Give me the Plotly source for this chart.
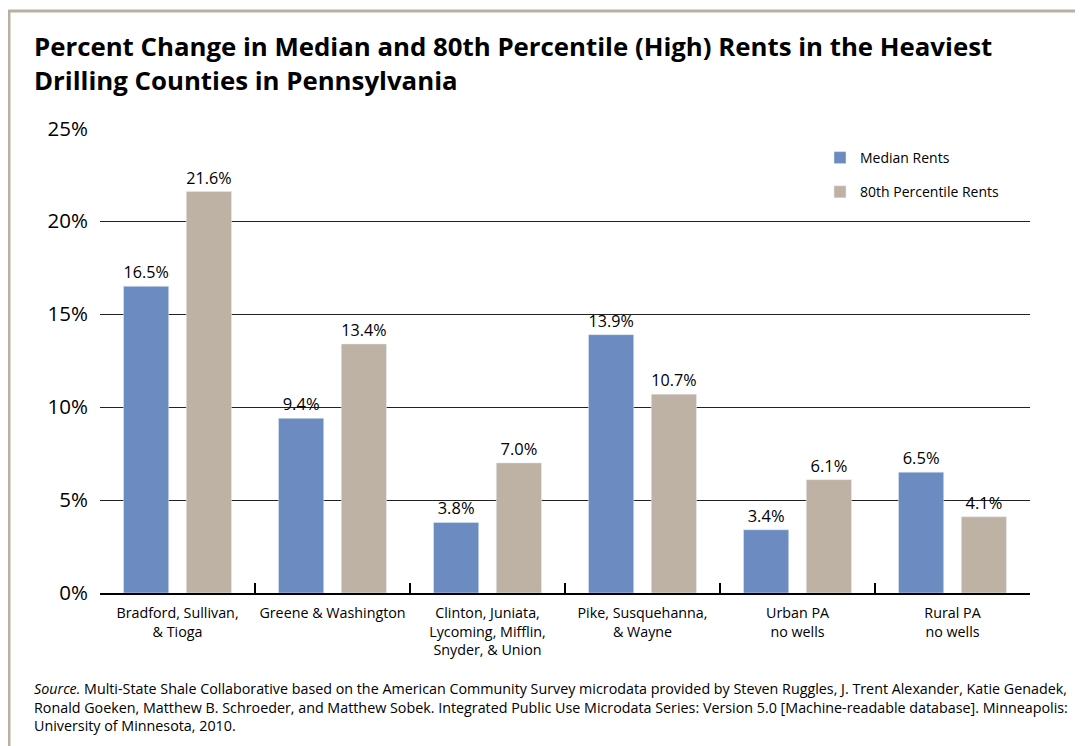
import plotly.graph_objects as go

categories = ["Bradford, Sullivan,<br>& Tioga", "Greene & Washington",
              "Clinton, Juniata,<br>Lycoming, Mifflin,<br>Snyder, & Union",
              "Pike, Susquehanna,<br>& Wayne", "Urban PA<br>no wells", "Rural PA<br>no wells"]
median_rents = [16.5, 9.4, 3.8, 13.9, 3.4, 6.5]
p80_rents = [21.6, 13.4, 7.0, 10.7, 6.1, 4.1]
y_ticks = [0, 5, 10, 15, 20, 25]
y_tick_labels = ["0%", "5%", "10%", "15%", "20%", "25%"]

OFF = 8  # browser body margin
W, H = 1083 - OFF, 746 - OFF
PL, PR, PT, PB = 100, 1030, 128, 593  # plot area in page pixels
L, R, T, B = PL - OFF, W - (PR - OFF), PT - OFF, H - (PB - OFF)
pw, ph = PR - PL, PB - PT

def px_x(x):
    return (x - PL) / pw

def px_y(y):
    return (PB - y) / ph

FONT = "Open Sans"
fig = go.Figure()
fig.add_trace(go.Bar(x=categories, y=median_rents, name="Median Rents",
                     marker_color="#6c8bc1", legendgroup="a",
                     texttemplate="%{y:.1f}%", textposition="outside",
                     textfont=dict(size=16.5, color="black", family=FONT), cliponaxis=False))
fig.add_trace(go.Bar(x=categories, y=p80_rents, name="80th Percentile Rents",
                     marker_color="#beb2a4", legendgroup="b",
                     texttemplate="%{y:.1f}%", textposition="outside",
                     textfont=dict(size=16.5, color="black", family=FONT), cliponaxis=False))

fig.update_layout(
    width=W, height=H, margin=dict(l=L, r=R, t=T, b=B),
    paper_bgcolor="white", plot_bgcolor="white",
    barmode="group", bargap=0.19, bargroupgap=0.28,
    font=dict(family=FONT, color="black"),
    legend=dict(x=px_x(820), y=px_y(142), xanchor="left", yanchor="top",
                traceorder="grouped", tracegroupgap=13,
                font=dict(size=14, family=FONT), bgcolor="rgba(0,0,0,0)"),
    xaxis=dict(type="category", tickson="boundaries", ticks="inside", ticklen=10,
               tickwidth=1.5, tickcolor="black", showline=True, linecolor="black",
               linewidth=2, tickangle=0, tickfont=dict(size=14.3, family=FONT),
               ticklabelstandoff=6, showgrid=False),
    yaxis=dict(range=[0, 25.02], tickvals=y_ticks, ticktext=y_tick_labels,
               showgrid=True, gridcolor="#222222", gridwidth=1, zeroline=False,
               showline=False, ticks="", ticklabelstandoff=11,
               tickfont=dict(size=20.5, family=FONT)),
    shapes=[dict(type="rect", xref="paper", yref="paper",
                 x0=px_x(9), x1=px_x(1080), y0=px_y(11), y1=px_y(770),
                 line=dict(color="#b9afa3", width=3), fillcolor="rgba(0,0,0,0)", layer="below")],
    annotations=[
        dict(xref="paper", yref="paper", x=px_x(32), y=px_y(26),
             xanchor="left", yanchor="top", align="left", showarrow=False,
             text="<b>Percent Change in Median and 80th Percentile (High) Rents in the Heaviest<br>Drilling Counties in Pennsylvania</b>",
             font=dict(size=25.8, family=FONT, color="black")),
        dict(xref="paper", yref="paper", x=px_x(32), y=px_y(677),
             xanchor="left", yanchor="top", align="left", showarrow=False,
             text="<i>Source.</i> Multi-State Shale Collaborative based on the American Community Survey microdata provided by Steven Ruggles, J. Trent Alexander, Katie Genadek,<br>Ronald Goeken, Matthew B. Schroeder, and Matthew Sobek. Integrated Public Use Microdata Series: Version 5.0 [Machine-readable database]. Minneapolis:<br>University of Minnesota, 2010.",
             font=dict(size=14.3, family=FONT, color="black")),
    ],
)

fig.write_html("out.html")
